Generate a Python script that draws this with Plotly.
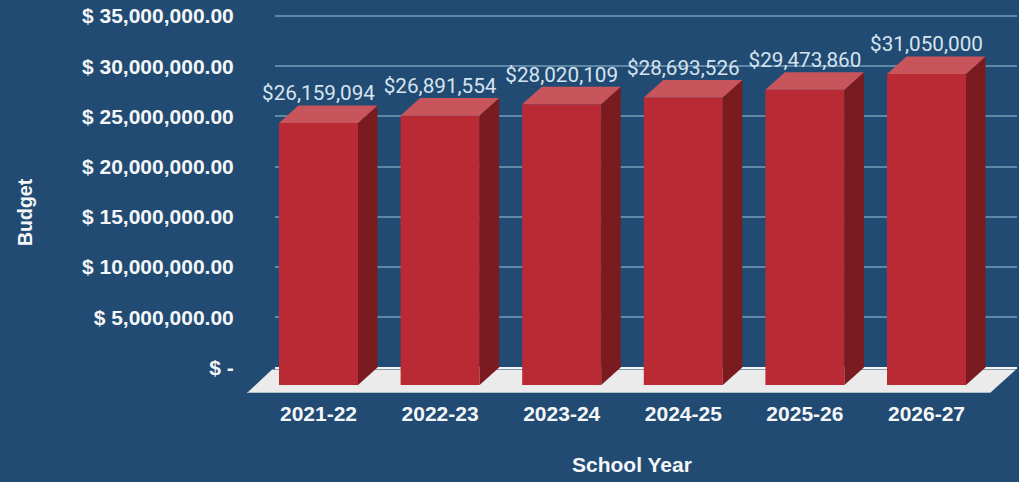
import plotly.graph_objects as go

# Budget by school year
school_years = ["2021-22", "2022-23", "2023-24", "2024-25", "2025-26", "2026-27"]
budget = [26159094, 26891554, 28020109, 28693526, 29473860, 31050000]
axis_ticks = [0, 5000000, 10000000, 15000000, 20000000, 25000000, 30000000, 35000000]
axis_tick_labels = ["$ -", "$ 5,000,000.00", "$ 10,000,000.00", "$ 15,000,000.00",
                    "$ 20,000,000.00", "$ 25,000,000.00", "$ 30,000,000.00", "$ 35,000,000.00"]

W, H = 1019, 482
BG = "#224B73"
FRONT, SIDE, TOP = "#BA2A35", "#7A1B20", "#C9555C"
FLOOR = "#EBEBEB"
LABEL = "#D6E4F0"

# Pixel layout of the two overlaid plots: the back wall carries the gridlines,
# the front plane carries the bars, and the extrusion joins the two.
SLOT = 121.6             # px per category
FIRST_X = 318.5          # px centre of the first bar
BASE_Y = 385.0           # px of value zero on the front plane
PX_PER_UNIT = 10.02e-6   # px per dollar
BAR = 79 / SLOT
DX = 19.5 / SLOT         # extrusion, in category units
DY = 17.5 / PX_PER_UNIT  # extrusion, in dollars

LEFT, RIGHT, BOTTOM = 240.0, 1019.0, 393.0
x_range = [(LEFT - FIRST_X) / SLOT, (RIGHT - FIRST_X) / SLOT]
y_range = [(BASE_Y - BOTTOM) / PX_PER_UNIT, BASE_Y / PX_PER_UNIT]

# Back wall: the axis runs a little past the top tick so that its gridline is kept
WALL_ZERO, WALL_TOP_TICK, WALL_HEADROOM = 367.5, 16.0, 5.0
wall_scale = (WALL_ZERO - WALL_TOP_TICK) / axis_ticks[-1]
wall_range = [0, axis_ticks[-1] + WALL_HEADROOM / wall_scale]

idx = list(range(len(budget)))
half = BAR / 2


def faces(corners):
    """Join one polygon per bar into a single trace, separated by gaps."""
    xs, ys = [], []
    for i, v in zip(idx, budget):
        for cx, cy in corners(i, v):
            xs.append(cx)
            ys.append(cy)
        xs.append(None)
        ys.append(None)
    return xs, ys


fig = go.Figure()

# Back wall: carries the gridlines and the dollar axis
fig.add_trace(go.Scatter(x=[0, 1], y=[0, 0], mode="lines", line=dict(color="rgba(0,0,0,0)"),
                         hoverinfo="skip", showlegend=False, xaxis="x", yaxis="y"))

# Front faces
fig.add_trace(go.Bar(x=idx, y=budget, width=BAR, marker=dict(color=FRONT, line=dict(width=0)),
                     showlegend=False, xaxis="x2", yaxis="y2"))

# Side faces
sx, sy = faces(lambda i, v: [(i + half, 0), (i + half + DX, DY), (i + half + DX, v + DY),
                             (i + half, v), (i + half, 0)])
fig.add_trace(go.Scatter(x=sx, y=sy, mode="lines", fill="toself", fillcolor=SIDE,
                         line=dict(width=0, color=SIDE), hoverinfo="skip",
                         showlegend=False, xaxis="x2", yaxis="y2"))

# Top faces
tx, ty = faces(lambda i, v: [(i - half, v), (i + half, v), (i + half + DX, v + DY),
                             (i - half + DX, v + DY), (i - half, v)])
fig.add_trace(go.Scatter(x=tx, y=ty, mode="lines", fill="toself", fillcolor=TOP,
                         line=dict(width=0, color=TOP), hoverinfo="skip",
                         showlegend=False, xaxis="x2", yaxis="y2"))

# Value labels above each bar
fig.add_trace(go.Scatter(x=idx, y=[v + DY for v in budget], mode="text",
                         text=[f"${v:,}" for v in budget], textposition="top center",
                         textfont=dict(family="Roboto", size=20.7, color=LABEL),
                         hoverinfo="skip", showlegend=False, cliponaxis=False,
                         xaxis="x2", yaxis="y2"))

# Floor under the bars, drawn beneath the traces
floor_front_left = (247 - FIRST_X) / SLOT
floor_front_right = (990 - FIRST_X) / SLOT
floor_back_left = (272 - FIRST_X) / SLOT
floor_back_right = (1016 - FIRST_X) / SLOT
floor_front_y = y_range[0]
floor_back_y = (BASE_Y - 369.5) / PX_PER_UNIT
floor_path = (f"M {floor_front_left} {floor_front_y} L {floor_front_right} {floor_front_y} "
              f"L {floor_back_right} {floor_back_y} L {floor_back_left} {floor_back_y} Z")

fig.update_layout(
    width=W, height=H,
    margin=dict(l=0, r=0, t=0, b=0),
    paper_bgcolor=BG, plot_bgcolor="rgba(0,0,0,0)",
    barmode="overlay",
    xaxis=dict(domain=[275 / W, 1017 / W], range=[0, 1], anchor="y", automargin=False,
               showgrid=False, zeroline=False, showticklabels=False, ticks=""),
    yaxis=dict(domain=[(H - WALL_ZERO) / H, (H - WALL_TOP_TICK + WALL_HEADROOM) / H],
               range=wall_range, anchor="x", automargin=False,
               tickvals=axis_ticks, ticktext=axis_tick_labels,
               showgrid=True, gridcolor="#5F87A6", gridwidth=1.5,
               zeroline=True, zerolinecolor="#F2F4F6", zerolinewidth=1.5,
               ticks="outside", ticklen=36, tickcolor="rgba(0,0,0,0)",
               tickfont=dict(family="Liberation Sans", size=21, color="#F4F6F8", weight="bold"),
               showline=False),
    xaxis2=dict(domain=[LEFT / W, RIGHT / W], range=x_range, anchor="y2", automargin=False,
                tickvals=idx, ticktext=school_years,
                showgrid=False, zeroline=False, showline=False,
                ticks="outside", ticklen=2, tickcolor="rgba(0,0,0,0)",
                tickfont=dict(family="Liberation Sans", size=21, color="#F4F6F8", weight="bold")),
    yaxis2=dict(domain=[(H - BOTTOM) / H, 1.0], range=y_range, anchor="x2", automargin=False,
                showgrid=False, zeroline=False, showline=False, showticklabels=False, ticks=""),
    shapes=[dict(type="path", path=floor_path, xref="x2", yref="y2", layer="below",
                 fillcolor=FLOOR, line=dict(width=0)),
            dict(type="line", x0=floor_front_left, x1=floor_front_right,
                 y0=floor_front_y, y1=floor_front_y, xref="x2", yref="y2",
                 layer="below", line=dict(color="#9FB2C4", width=1.5))],
    annotations=[
        dict(text="<b>School Year</b>", x=632 / W, y=(H - 464) / H, xref="paper", yref="paper",
             showarrow=False, xanchor="center", yanchor="middle",
             font=dict(family="Liberation Sans", size=21, color="#F4F6F8")),
        dict(text="<b>Budget</b>", x=25 / W, y=(H - 212) / H, xref="paper", yref="paper",
             showarrow=False, textangle=-90, xanchor="center", yanchor="middle",
             font=dict(family="Liberation Sans", size=19.5, color="#F4F6F8")),
    ],
)

fig.write_html("out.html", config=dict(displayModeBar=False))
